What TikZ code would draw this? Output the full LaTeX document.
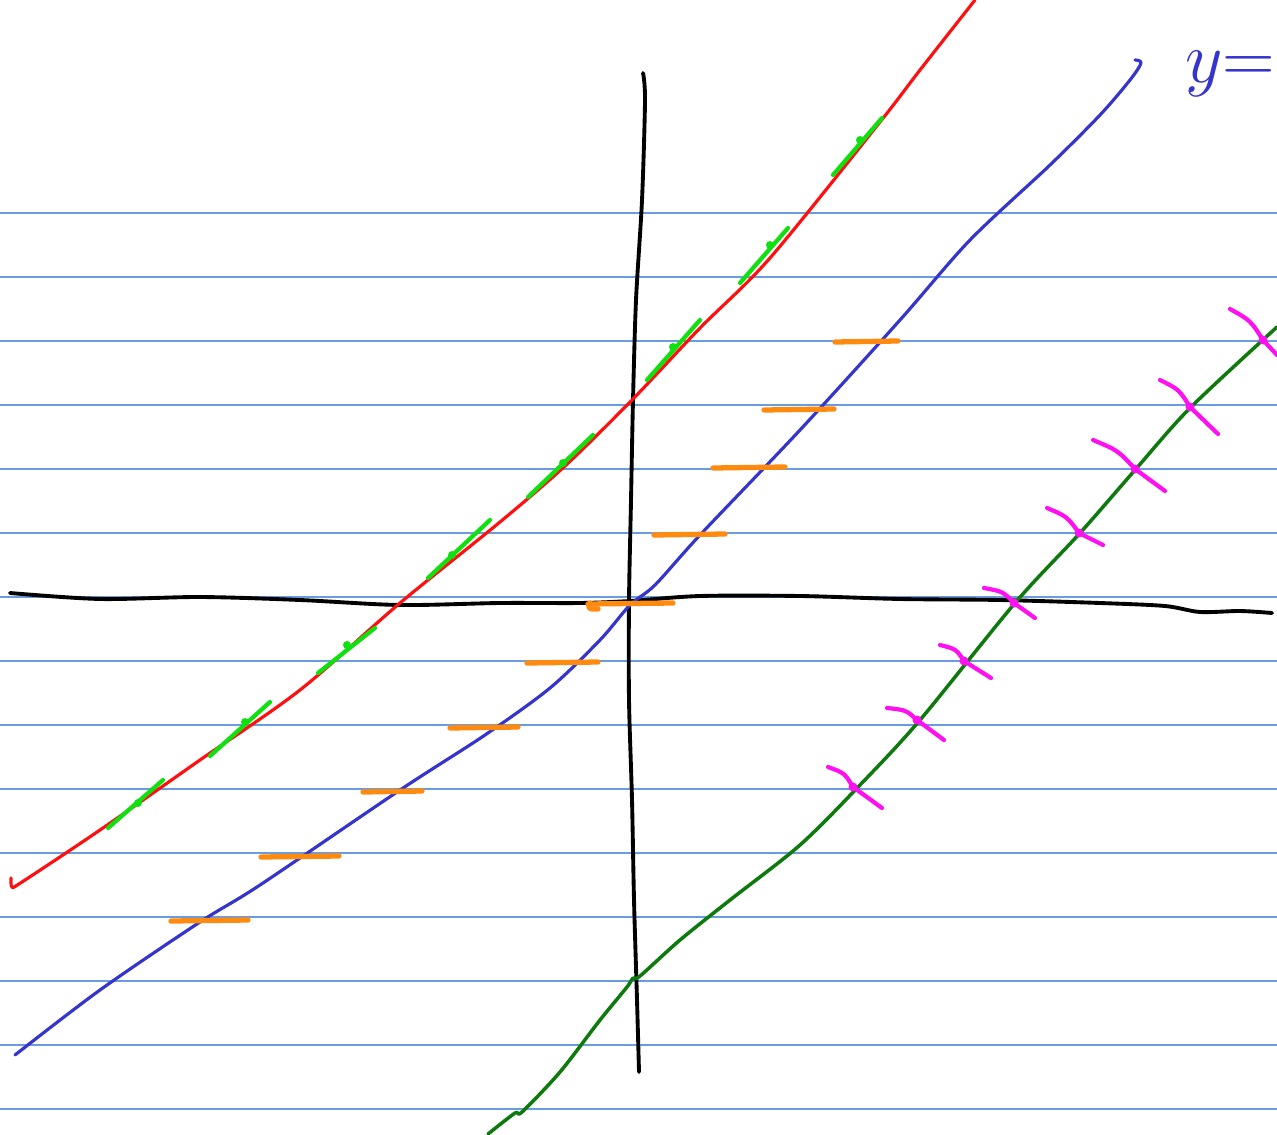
\documentclass[tikz,border=0pt]{standalone}
\usepackage{tikz}
\usetikzlibrary{calc}
\definecolor{sk-rule}{HTML}{6A9CE0}
\definecolor{sk-red}{HTML}{FF1010}
\definecolor{sk-blue}{HTML}{3535CC}
\definecolor{sk-green}{HTML}{0E7A0E}
\definecolor{sk-lime}{HTML}{10E010}
\definecolor{sk-orange}{HTML}{FF8A10}
\definecolor{sk-pink}{HTML}{FF10F0}
\tikzset{pen/.style={line cap=round, line join=round}}

\begin{document}
\begin{tikzpicture}[x=0.01cm, y=-0.01cm]

  % Page style definitions
  \tikzset{
    rule/.style={sk-rule, line width=0.45pt},
    axis/.style={pen, black, line width=1.1pt},
    curve/.style={pen, line width=0.9pt},
    orangedash/.style={pen, sk-orange, line width=1.5pt},
    greentick/.style={pen, sk-lime, line width=1.2pt},
    pinkcross/.style={pen, sk-pink, line width=1.2pt}
  }

  \useasboundingbox (0,0) rectangle (1277,1134);
  \clip (0,0) rectangle (1277,1134);

  % Ruled lines of the page
  \foreach \ry in {213,277,...,1109}
    \draw[rule] (0,\ry) -- (1277,\ry);

  % Axes
  \draw[axis] plot[smooth] coordinates {(10,593) (100,599) (200,597) (300,600) (400,605) (500,603) (580,603) (630,601) (700,596) (800,596) (900,599) (1000,600) (1100,603) (1165,606) (1200,612) (1240,611) (1272,613)};
  \draw[axis] plot[smooth] coordinates {(643,73) (645,100) (642,200) (636,300) (633,400) (631,500) (629,600) (629,700) (632,800) (634,900) (637,1000) (639,1072)};

  % Red line
  \draw[curve, sk-red] plot[smooth] coordinates {(11,878) (12,887) (22,882) (100,830) (200,760) (300,690) (400,603) (500,522) (565,466) (632,400) (700,328) (770,258) (880,122) (920,70) (975,0)};

  % Blue line
  \draw[curve, sk-blue] plot[smooth] coordinates {(15,1055) (100,990) (200,922) (260,885) (400,790) (485,735) (550,688) (600,640) (630,605) (655,585) (700,535) (800,430) (900,320) (970,240) (1050,165) (1100,115) (1130,80) (1141,63) (1135,60)};

  % Dark green line
  \draw[curve, sk-green, line width=1.0pt] plot[smooth] coordinates {(488,1134) (515,1113) (522,1112) (560,1072) (600,1020) (627,987) (633,978) (640,976) (680,940) (730,900) (800,845) (860,785) (920,720) (1015,603) (1080,533) (1135,470) (1190,408) (1277,327)};

  % Handwritten label at the top right
  \node[anchor=east, inner sep=0pt, sk-blue, font=\fontsize{21}{23}\selectfont] (lbl) at (1276,74) {$y{=}$};

  % Orange dashes on the blue line
  \foreach \xa/\xb/\dy in {835/898/341, 764/834/409, 713/785/467, 654/725/534, 588/673/603, 527/598/662, 450/518/727, 363/422/791, 261/339/856, 171/248/920}
    \draw[orangedash] (\xa,\dy+1) -- (\xb,\dy);
  \draw[orangedash] (590,603) .. controls (588,609) .. (598,609);

  % Light green tick marks on the red line
  \foreach \xa/\ya/\xb/\yb/\cx/\cy in {108/828/163/780/138/803, 210/756/270/702/245/722, 318/673/375/628/347/645, 428/578/490/520/452/555, 528/497/593/435/563/463, 647/380/700/320/673/347, 740/283/788/228/770/245, 833/175/882/118/860/140}
  {
    \draw[greentick] (\xa,\ya) -- (\xb,\yb);
    \fill[sk-lime] (\cx,\cy) circle (4);
  }

  % Magenta crosses on the dark green line
  \foreach \xa/\ya/\xb/\yb/\cx/\cy in {828/767/882/808/853/787, 887/708/944/740/917/720, 940/645/991/678/964/661, 984/588/1035/618/1014/603, 1047/508/1103/545/1079/533, 1093/440/1165/491/1135/469, 1160/380/1218/434/1190/407, 1230/309/1277/355/1263/340}
  {
    \draw[pinkcross] (\xa,\ya) .. controls ($(\xa,\ya)!0.5!(\cx,\cy)+(4,-4)$) .. (\cx,\cy) -- (\xb,\yb);
    \fill[sk-pink] (\cx,\cy) circle (4.5);
  }

\end{tikzpicture}
\end{document}
